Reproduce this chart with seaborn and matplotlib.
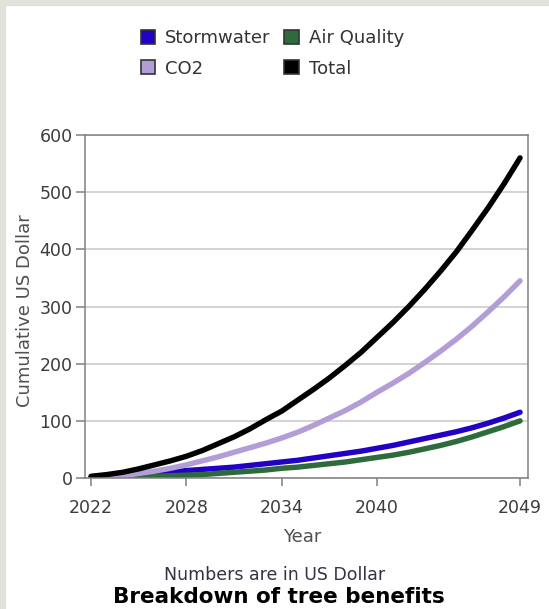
import matplotlib
matplotlib.use("Agg")
import matplotlib.pyplot as plt
from matplotlib.patches import Patch, Rectangle
import seaborn as sns
import pandas as pd

years = list(range(2022, 2050))
stormwater = [1, 2, 4, 6, 8, 11, 13, 15, 17, 19, 22, 25, 28, 31, 35, 39, 43, 47, 52, 57, 63, 69, 75, 81, 88, 96, 105, 115]
air_quality = [0, 1, 1, 2, 3, 4, 5, 6, 8, 10, 12, 14, 17, 19, 22, 25, 28, 32, 36, 40, 45, 51, 57, 64, 72, 81, 90, 100]
co2 = [0, 1, 4, 8, 12, 17, 23, 30, 37, 45, 53, 61, 70, 80, 92, 105, 118, 133, 150, 166, 183, 202, 222, 243, 266, 291, 317, 345]
total = [3, 6, 10, 16, 23, 30, 38, 48, 60, 72, 86, 102, 117, 136, 155, 175, 197, 220, 246, 272, 300, 330, 362, 396, 434, 473, 515, 560]

series_names = ["Stormwater", "Air Quality", "CO2", "Total"]
series_colors = ["#2200c4", "#2d6b3c", "#b39dd6", "#000000"]
x_ticks = [2022, 2028, 2034, 2040, 2049]
y_ticks = [0, 100, 200, 300, 400, 500, 600]

df = pd.DataFrame({"Year": years, "Stormwater": stormwater, "Air Quality": air_quality,
                   "CO2": co2, "Total": total})
long_df = df.melt(id_vars="Year", var_name="Series", value_name="Value")

sns.set_theme(style="white")
plt.rcParams["font.family"] = ["DejaVu Sans"]

fig, ax = plt.subplots(figsize=(5.49, 6.09), dpi=100)
fig.patch.set_facecolor("white")
fig.subplots_adjust(left=85/549, right=528/549, bottom=1-478/609, top=1-135/609)

# light gray frame strips at top and left
fig.add_artist(Rectangle((0, 1-5/609), 1, 5/609, transform=fig.transFigure,
                         color="#e2e2da", zorder=0))
fig.add_artist(Rectangle((0, 0), 5/549, 1, transform=fig.transFigure,
                         color="#e2e2da", zorder=0))

palette = dict(zip(series_names, series_colors))
sns.lineplot(data=long_df, x="Year", y="Value", hue="Series", hue_order=series_names,
             palette=palette, linewidth=3.9, ax=ax, legend=False,
             solid_capstyle="round")

ax.set_xlim(2021.62, 2049.5)
ax.set_ylim(0, 600)
ax.set_xticks(x_ticks)
ax.set_xticklabels([str(t) for t in x_ticks])
ax.set_yticks(y_ticks)
ax.yaxis.grid(True, color="#c8c8c8", linewidth=1.1)
ax.xaxis.grid(False)
ax.set_axisbelow(True)
for sp in ax.spines.values():
    sp.set_visible(True)
    sp.set_color("#808080")
    sp.set_linewidth(1.1)

ax.tick_params(axis="y", which="major", length=6.5, width=1.1, color="#808080",
               labelsize=12.5, labelcolor="#3c3c3c", pad=2.5, left=True)
ax.tick_params(axis="x", which="major", length=6, width=1.1, color="#808080",
               labelsize=12.5, labelcolor="#3c3c3c", pad=9, bottom=True)

ax.set_xlabel("Year", fontsize=13, color="#505050")
ax.set_ylabel("Cumulative US Dollar", fontsize=13, color="#505050")
ax.xaxis.set_label_coords(0.491, -0.147)
ax.yaxis.set_label_coords(-0.115, 0.487)

handles = [Patch(facecolor=c, edgecolor="#333333", linewidth=1.2) for c in
           [series_colors[0], series_colors[2], series_colors[1], series_colors[3]]]
labels = [series_names[0], series_names[2], series_names[1], series_names[3]]
fig.legend(handles, labels, loc="upper left", bbox_to_anchor=(141/549, 1-29/609),
           ncol=2, frameon=False, fontsize=13, handlelength=0.8, handleheight=0.8,
           handletextpad=0.55, columnspacing=0.75, labelspacing=0.7,
           borderpad=0, borderaxespad=0, labelcolor="#333333")

fig.text(275/549, 1-580/609, "Numbers are in US Dollar", ha="center", va="baseline",
         fontsize=12.5, color="#333344")
fig.text(279/549, 1-602.7/609, "Breakdown of tree benefits", ha="center", va="baseline",
         fontsize=15.5, fontweight="bold", color="#000000")

fig.savefig("out.png", dpi=100, facecolor="white")
